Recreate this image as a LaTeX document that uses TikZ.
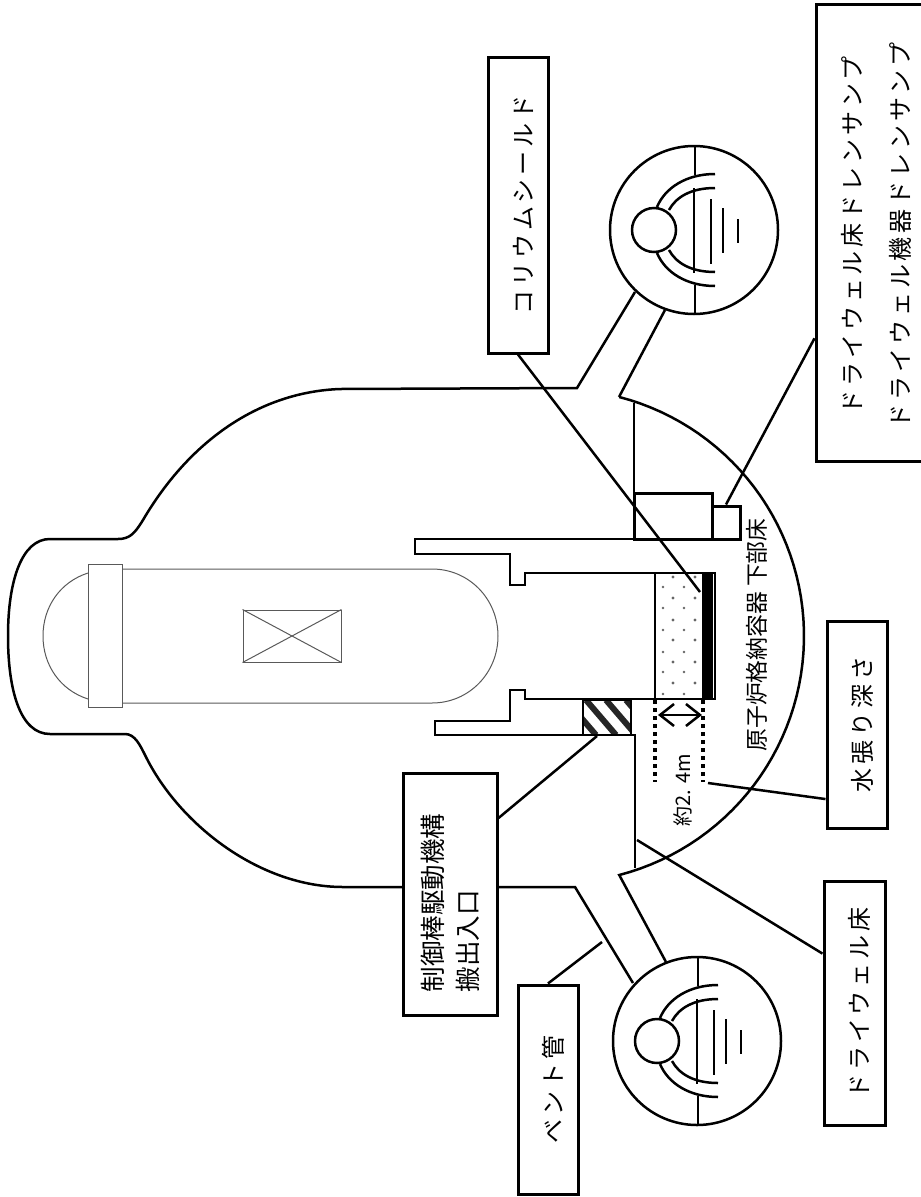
\documentclass[tikz,border=0pt]{standalone}
\usepackage{fontspec}
\usetikzlibrary{calc,arrows.meta}
\newfontfamily\jpfont{Noto Sans CJK JP}
\newfontfamily\jpwide[LetterSpace=16]{Noto Sans CJK JP}
\tikzset{%
  lblbox/.style={draw,fill=white,line width=3pt,rotate=90,inner sep=0,font=\jpwide\fontsize{24}{48}\selectfont},
  oneline/.style={text height=34pt,text depth=6pt},
  lbltext/.style={rotate=90,inner sep=0,font=\jpfont\fontsize{22.8}{26}\selectfont},
  wall/.style={line width=2.5pt},
  thinline/.style={draw=black!65,line width=1pt},
  leader/.style={line width=2.5pt},
  depth/.style={line width=4pt,dash pattern=on 4pt off 4pt}
}
\begin{document}
\begin{tikzpicture}[x=1pt,y=-1pt]
    \useasboundingbox (0,0) rectangle (921,1197);
    % reactor vessel
    \path
      (105,636) node (flange)[thinline,minimum width=34pt,minimum height=143pt,inner sep=0]{}
      (292,636) node (core)[thinline,minimum width=98pt,minimum height=52pt,inner sep=0]{};
    \draw[thinline] (core.north west) -- (core.south east);
    \draw[thinline] (core.south west) -- (core.north east);
    \draw[thinline] (flange.north east |- 0,569) -- (432,569) .. controls (469,569) and (498,599) .. (498,636)
      .. controls (498,673) and (469,703) .. (432,703) -- (flange.south east |- 0,703);
    \draw[thinline] (88,573) .. controls (60,582) and (43,607) .. (43,636)
      .. controls (43,665) and (60,690) .. (88,699);
    % containment
    \draw[wall] (635,292) -- (577,388) -- (340,389) .. controls (260,392) and (190,440) .. (143,520)
      .. controls (135,533) and (130,539) .. (118,539) -- (50,539)
      .. controls (22,539) and (8,580) .. (8,636)
      .. controls (8,690) and (20,734) .. (50,734) -- (125,734)
      .. controls (135,734) and (140,745) .. (146,757)
      .. controls (180,825) and (260,887) .. (343,887) -- (575,887) -- (633,983);
    \draw[wall] (665,310) -- (619,397)
      plot[domain=-75.4:75.4,samples=60] ({557+247*cos(\x)},{636+247*sin(\x)})
      -- (666,962);
    % floors and pedestal
    \draw[wall] (634,403) -- (634,493);
    \draw[wall] (634,539) -- (415,539) -- (415,554) -- (510,554) -- (510,585) -- (525,585) -- (525,573)
      -- (715,573) -- (715,699) -- (525,699) -- (525,690) -- (510,690) -- (510,721) -- (435,721)
      -- (435,735) -- (635,735) -- (635,868);
    % corium shield, concrete
    \foreach \dy in {577,598,620,640,662,683} \foreach \dx in {673,695} \fill[black!60] (\dx,\dy) circle (1.6pt);
    \foreach \dy in {587,608,630,652,672,694} \foreach \dx in {663,684} \fill[black!60] (\dx,\dy) circle (1.3pt);
    \draw[wall] (655,573) -- (655,699);
    \fill (702,573) rectangle (713,699);
    % sumps
    \path
      (673,516) node (sumpa)[draw,line width=3pt,minimum width=78pt,minimum height=46pt,inner sep=0]{}
      (726,522.5) node (sumpb)[draw,line width=3pt,minimum width=28pt,minimum height=33pt,inner sep=0]{};
    % CRD opening
    \begin{scope}
      \clip (583,700) rectangle (631,735);
      \foreach \hx in {546,566,586,606,626} \draw[line width=6pt,black!85] (\hx,700) -- (\hx+30,735);
    \end{scope}
    \node (hatch) at (607,717.5) [draw,line width=1.5pt,minimum width=48pt,minimum height=35pt,inner sep=0]{};
    % vent rings
    \foreach \cx/\cy/\vn in {694/230/a,697/1041/b} {
      \begin{scope}[shift={(\cx,\cy)}]
        \node (ring\vn) at (0,0) [draw,fill=none,circle,line width=2.5pt,minimum size=168pt,inner sep=0]{};
        \node (ball\vn) at (-40,0) [draw,circle,line width=2.5pt,minimum size=44pt,inner sep=0]{};
        \draw[wall] (1,-84) -- (1,-55);
        \draw[wall] (1,55) -- (1,84);
        \draw[wall] (0,-42) -- (0,43);
        \foreach \s in {1,-1} {
          \draw[wall] (21,\s*56) .. controls (-8,\s*56) and (-29,\s*42) .. (-37,\s*23);
          \draw[wall] (21,\s*42) .. controls (-3,\s*42) and (-18,\s*33) .. (-25,\s*20);
        }
        \draw[line width=2.5pt] (17,-31) -- (17,34);
        \draw[line width=2.5pt] (29,-22) -- (29,23);
        \draw[line width=2.5pt] (44,-11) -- (44,13);
      \end{scope}
    }
    % depth mark
    \coordinate (dla) at (655,700);
    \coordinate (dlb) at (655,782);
    \coordinate (dra) at (703,700);
    \coordinate (drb) at (703,782);
    \coordinate (arra) at (658,715);
    \coordinate (arrb) at (702,715);
    \draw[depth] (dla) -- (dlb);
    \draw[depth] (dra) -- (drb);
    \draw[{Straight Barb[length=14pt,width=22pt]}-{Straight Barb[length=14pt,width=22pt]},line width=2.5pt] (arra) -- (arrb);
    \node (depthlbl) at (683,790) [lbltext,font=\jpfont\fontsize{20}{24}\selectfont]{約2. 4m};
    \node (floorlbl) at (757,635) [lbltext]{原子炉格納容器 下部床};
    % label boxes
    \path
      (518,205) node (colbox)[lblbox,oneline,minimum width=296pt,minimum height=60pt]{コリウムシールド}
      (876,232.5) node (drainbox)[lblbox,minimum width=457pt,minimum height=120pt,align=center]{ドライウェル床ドレンサンプ\hspace*{6pt}\\ドライウェル機器ドレンサンプ\hspace*{6pt}}
      (857,724.5) node (depthbox)[lblbox,oneline,minimum width=207pt,minimum height=60pt]{水張り深さ}
      (854.5,1003) node (dwfbox)[lblbox,oneline,minimum width=244pt,minimum height=61pt]{ドライウェル床}
      (548,1089.5) node (ventbox)[lblbox,oneline,minimum width=209pt,minimum height=60pt]{ベント管}
      (450,894) node (crdbox)[lblbox,minimum height=94pt,align=left,text width=196pt,inner xsep=23pt,inner ysep=0pt,font=\jpfont\fontsize{25.5}{35}\selectfont]{制御棒駆動機構\\搬出入口};
    % leaders
    \coordinate (colend) at (700,592);
    \coordinate (crdend) at (597,736);
    \coordinate (ventend) at (602,942);
    \coordinate (dwfend) at (637,840);
    \coordinate (depthend) at (708,783);
    \draw[leader] (colbox.west) -- (colend);
    \draw[leader] ($(drainbox.north west)!0.27!(drainbox.north east)$) -- (sumpb.north);
    \draw[leader] ($(depthbox.north west)!0.145!(depthbox.north east)$) -- (depthend);
    \draw[leader] ($(dwfbox.north west)!0.70!(dwfbox.north east)$) -- (dwfend);
    \draw[leader] (ventbox.east) -- (ventend);
    \draw[leader] ($(crdbox.south west)!0.81!(crdbox.south east)$) -- (crdend);
  \end{tikzpicture}
\end{document}
